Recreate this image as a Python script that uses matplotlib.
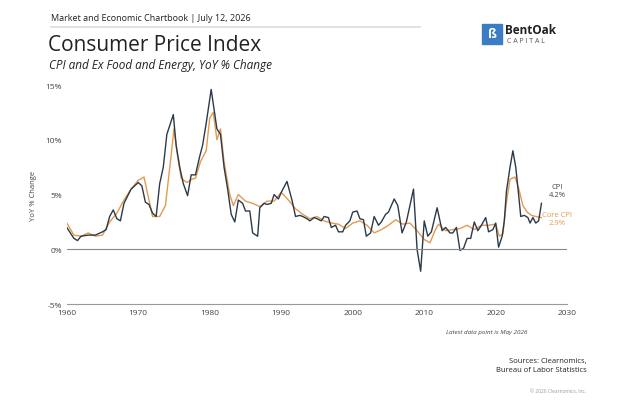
import matplotlib.pyplot as plt
from matplotlib.patches import FancyBboxPatch

plt.rcParams['font.family'] = ['Open Sans', 'DejaVu Sans']

cpi_years = [1960, 1960.5, 1961, 1961.5, 1962, 1963, 1964, 1965, 1965.5, 1966, 1966.5, 1967, 1967.5, 1968, 1969,
             1970, 1970.5, 1971, 1971.5, 1972, 1972.5, 1973, 1973.5, 1974, 1974.5, 1974.9, 1975.3, 1975.8, 1976.3, 1976.9,
             1977.4, 1978, 1978.6, 1979, 1979.5, 1980.2, 1980.6, 1981, 1981.5, 1982, 1982.5, 1983, 1983.5, 1984, 1984.6,
             1985, 1985.6, 1986, 1986.7, 1987, 1987.6, 1988, 1988.6, 1989, 1989.6, 1990, 1990.8, 1991.5, 1992, 1992.6,
             1993, 1993.6, 1994, 1994.6, 1995, 1995.6, 1996, 1996.6, 1997, 1997.6, 1998, 1998.6, 1999, 1999.6, 2000,
             2000.6, 2001, 2001.5, 2001.9, 2002.5, 2003, 2003.6, 2004, 2004.6, 2005, 2005.8, 2006.3, 2006.9, 2007.5,
             2008, 2008.5, 2009, 2009.5, 2010, 2010.5, 2011, 2011.8, 2012.5, 2013, 2013.6, 2014, 2014.5, 2015, 2015.5,
             2016, 2016.5, 2017, 2017.5, 2018, 2018.6, 2019, 2019.6, 2020, 2020.4, 2020.9, 2021.2, 2021.5, 2022,
             2022.4, 2022.8, 2023.2, 2023.5, 2024, 2024.5, 2024.8, 2025.2, 2025.6, 2026, 2026.4]
cpi_vals = [2.0, 1.5, 1.0, 0.8, 1.2, 1.3, 1.3, 1.6, 1.8, 3.0, 3.6, 2.8, 2.6, 4.2, 5.5,
            6.1, 5.8, 4.3, 4.1, 3.3, 3.0, 6.0, 7.5, 10.5, 11.5, 12.3, 9.5, 7.5, 6.0, 4.9,
            6.8, 6.8, 8.5, 9.5, 11.5, 14.6, 12.8, 11.0, 10.5, 7.5, 5.5, 3.2, 2.5, 4.5, 4.2,
            3.5, 3.5, 1.5, 1.2, 3.8, 4.2, 4.1, 4.2, 5.0, 4.6, 5.2, 6.2, 4.5, 3.0, 3.1,
            3.0, 2.8, 2.6, 2.9, 2.8, 2.6, 3.0, 2.9, 2.0, 2.2, 1.6, 1.6, 2.2, 2.6, 3.4,
            3.5, 2.8, 2.7, 1.2, 1.5, 3.0, 2.2, 2.5, 3.2, 3.4, 4.6, 4.0, 1.5, 2.5,
            4.0, 5.5, 0.0, -2.0, 2.6, 1.2, 1.6, 3.8, 1.7, 2.0, 1.5, 1.5, 2.0, -0.1, 0.1,
            1.0, 1.0, 2.5, 1.7, 2.2, 2.9, 1.6, 1.8, 2.4, 0.2, 1.2, 2.6, 5.3, 7.5,
            9.0, 7.5, 5.0, 3.0, 3.1, 2.9, 2.4, 2.9, 2.4, 2.6, 4.2]

core_years = [1960, 1961, 1962, 1963, 1964, 1965, 1966, 1967, 1968, 1969, 1970, 1970.8, 1971.5, 1972, 1973,
              1973.8, 1974.5, 1975, 1975.5, 1976, 1976.8, 1977.5, 1978, 1978.7, 1979.5, 1980, 1980.5, 1981, 1981.5,
              1982, 1982.8, 1983.3, 1984, 1985, 1986, 1987, 1988, 1989, 1990, 1991, 1992, 1993, 1994, 1995, 1996,
              1997, 1998, 1999, 2000, 2001, 2002, 2003, 2004, 2005, 2006, 2007, 2008, 2009, 2010, 2010.8, 2011.5,
              2012, 2013, 2014, 2015, 2016, 2017, 2018, 2019, 2020, 2020.5, 2021, 2021.5, 2022, 2022.7, 2023.2,
              2023.8, 2024.4, 2025, 2025.6, 2026.4]
core_vals = [2.4, 1.3, 1.2, 1.5, 1.2, 1.3, 2.5, 3.3, 4.5, 5.5, 6.3, 6.6, 4.5, 3.0, 3.0,
             4.0, 8.0, 11.0, 8.5, 6.5, 6.1, 6.4, 6.5, 8.0, 9.0, 12.0, 12.5, 10.0, 11.0,
             8.0, 5.0, 4.0, 5.0, 4.4, 4.2, 3.9, 4.4, 4.4, 5.2, 4.5, 3.7, 3.2, 2.8, 3.0, 2.6,
             2.4, 2.3, 1.9, 2.4, 2.6, 2.2, 1.5, 1.8, 2.2, 2.7, 2.3, 2.4, 1.7, 0.9, 0.6, 1.7,
             2.3, 1.7, 1.8, 1.9, 2.2, 1.8, 2.2, 2.2, 2.3, 1.2, 1.4, 4.3, 6.4, 6.6, 5.6,
             4.0, 3.4, 3.1, 3.0, 2.9]

fig = plt.figure(figsize=(6.24, 4.02), dpi=100)
ax = fig.add_axes([0.107, 0.241, 0.802, 0.545])

ax.plot(core_years, core_vals, color='#E39A4F', lw=1.0)
ax.plot(cpi_years, cpi_vals, color='#2B3A4A', lw=1.0)
ax.axhline(0, color='#888888', lw=0.8)

ax.set_xlim(1960, 2030)
ax.set_ylim(-5, 15)
ax.set_xticks(range(1960, 2031, 10))
ax.set_yticks([-5, 0, 5, 10, 15])
ax.set_yticklabels(['-5%', '0%', '5%', '10%', '15%'])
ax.tick_params(axis='both', length=0, labelsize=6, colors='#444444')
for s in ['top', 'right', 'left']:
    ax.spines[s].set_visible(False)
ax.spines['bottom'].set_color('#999999')
ax.set_ylabel('YoY % Change', fontsize=5.5, color='#444444', labelpad=6)

ax.text(2028.6, 5.4, 'CPI\n4.2%', fontsize=5.5, color='#444444', ha='center', va='center')
ax.text(2028.6, 2.8, 'Core CPI\n2.9%', fontsize=5.5, color='#E39A4F', ha='center', va='center')

fig.text(0.081, 0.955, 'Market and Economic Chartbook | July 12, 2026', fontsize=6.5, color='#222222', va='center')
fig.add_artist(plt.Line2D([0.081, 0.673], [0.93, 0.93], color='#DDDDDD', lw=1.2))
fig.text(0.077, 0.887, 'Consumer Price Index', fontsize=15, color='#222222', va='center')
fig.text(0.079, 0.838, 'CPI and Ex Food and Energy, YoY % Change', fontsize=8.5, style='italic', color='#222222', va='center')

fig.add_artist(FancyBboxPatch((0.773, 0.889), 0.032, 0.05, boxstyle='square,pad=0', color='#3B7CC4'))
fig.text(0.789, 0.913, 'ß', fontsize=9, color='white', ha='center', va='center', weight='bold')
fig.text(0.81, 0.925, 'BentOak', fontsize=8.5, weight='bold', color='#222222', va='center')
fig.text(0.812, 0.898, 'C A P I T A L', fontsize=5, color='#555555', va='center')

fig.text(0.845, 0.168, 'Latest data point is May 2026', fontsize=4.5, style='italic', color='#444444', ha='right')
fig.text(0.94, 0.075, 'Sources: Clearnomics,\nBureau of Labor Statistics', fontsize=5.5, color='#222222', ha='right', linespacing=1.3)
fig.text(0.94, 0.022, '© 2026 Clearnomics, Inc.', fontsize=3.5, color='#999999', ha='right')

fig.savefig('out.png', dpi=100)
